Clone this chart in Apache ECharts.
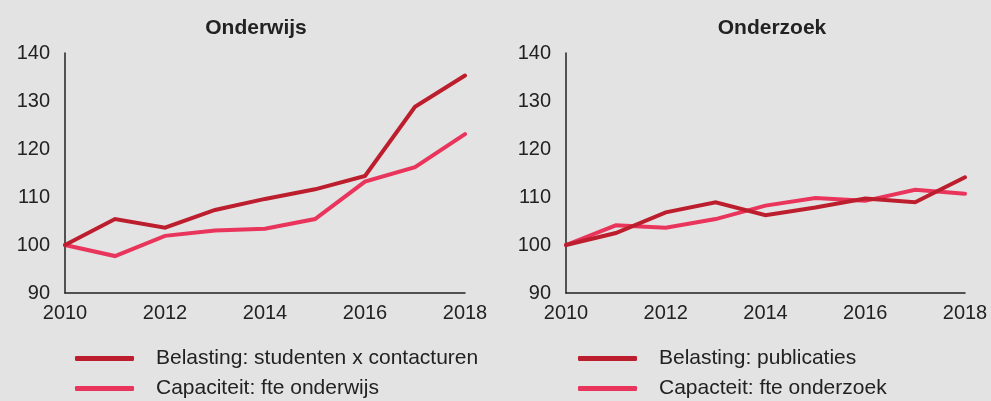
<!DOCTYPE html>
<html><head><meta charset="utf-8">
<script src="https://cdn.jsdelivr.net/npm/echarts@6/dist/echarts.min.js"></script>
<style>html,body{margin:0;padding:0;background:#e3e3e3}#c{width:991px;height:401px}</style>
</head><body><div id="c"></div>
<script>
const years = [2010, 2011, 2012, 2013, 2014, 2015, 2016, 2017, 2018];
const onderwijsBelasting = [100, 105.4, 103.6, 107.3, 109.6, 111.6, 114.4, 128.8, 135.3];
const onderwijsCapaciteit = [100, 97.7, 101.9, 103.0, 103.4, 105.4, 113.2, 116.2, 123.1];
const onderzoekBelasting = [100, 102.5, 106.8, 108.9, 106.2, 107.8, 109.7, 108.9, 114.1];
const onderzoekCapaciteit = [100, 104.1, 103.6, 105.4, 108.2, 109.8, 109.2, 111.5, 110.7];
const panelTitles = ['Onderwijs', 'Onderzoek'];
const seriesNames = ['Belasting: studenten x contacturen', 'Capaciteit: fte onderwijs', 'Belasting: publicaties', 'Capacteit: fte onderzoek'];
const yTicks = {min: 90, max: 140, interval: 10};
const xTicks = {min: 2010, max: 2018, interval: 2};

const DARK = '#bd1e2e', PINK = '#e9345b', FONT = 'Liberation Sans, Arial, sans-serif';
const pair = (xs, ys) => xs.map((x, i) => [x, ys[i]]);
const chart = echarts.init(document.getElementById('c'));
const xAxisBase = (gi) => ({
  type: 'value', gridIndex: gi, min: xTicks.min, max: xTicks.max, interval: xTicks.interval,
  axisLine: {show: true, lineStyle: {color: '#222', width: 1.5}}, axisTick: {show: false},
  splitLine: {show: false},
  axisLabel: {color: '#222', fontSize: 20, fontFamily: FONT, margin: 10, formatter: v => String(v)}
});
const yAxisBase = (gi) => ({
  type: 'value', gridIndex: gi, min: yTicks.min, max: yTicks.max, interval: yTicks.interval,
  axisLine: {show: true, lineStyle: {color: '#222', width: 1.5}}, axisTick: {show: false},
  splitLine: {show: false},
  axisLabel: {color: '#222', fontSize: 20, fontFamily: FONT, margin: 15}
});
const lineSeries = (name, data, color, gi) => ({
  name, type: 'line', xAxisIndex: gi, yAxisIndex: gi, data: pair(years, data),
  showSymbol: false, symbol: 'none', lineStyle: {color, width: 4, cap: 'round', join: 'miter'},
  itemStyle: {color}, animation: false
});
const legendItem = (left, top, name) => ({
  left, top, orient: 'horizontal', itemWidth: 59, itemHeight: 5, icon: 'roundRect',
  data: [name], textStyle: {color: '#222', fontSize: 21, fontFamily: FONT, padding: [0, 0, 0, 17]},
  selectedMode: false, padding: 0
});
chart.setOption({
  backgroundColor: '#e3e3e3',
  animation: false,
  title: [
    {text: panelTitles[0], left: 251, top: 13, textAlign: 'center', textStyle: {fontSize: 21, fontWeight: 'bold', color: '#222', fontFamily: FONT}},
    {text: panelTitles[1], left: 767, top: 13, textAlign: 'center', textStyle: {fontSize: 21, fontWeight: 'bold', color: '#222', fontFamily: FONT}}
  ],
  grid: [
    {left: 65, right: 526, top: 53, bottom: 108},
    {left: 566, right: 26, top: 53, bottom: 108}
  ],
  xAxis: [xAxisBase(0), xAxisBase(1)],
  yAxis: [yAxisBase(0), yAxisBase(1)],
  legend: [
    legendItem(75, 348, seriesNames[0]), legendItem(75, 378, seriesNames[1]),
    legendItem(578, 348, seriesNames[2]), legendItem(578, 378, seriesNames[3])
  ],
  series: [
    lineSeries(seriesNames[1], onderwijsCapaciteit, PINK, 0),
    lineSeries(seriesNames[0], onderwijsBelasting, DARK, 0),
    lineSeries(seriesNames[3], onderzoekCapaciteit, PINK, 1),
    lineSeries(seriesNames[2], onderzoekBelasting, DARK, 1)
  ]
});
</script></body></html>
